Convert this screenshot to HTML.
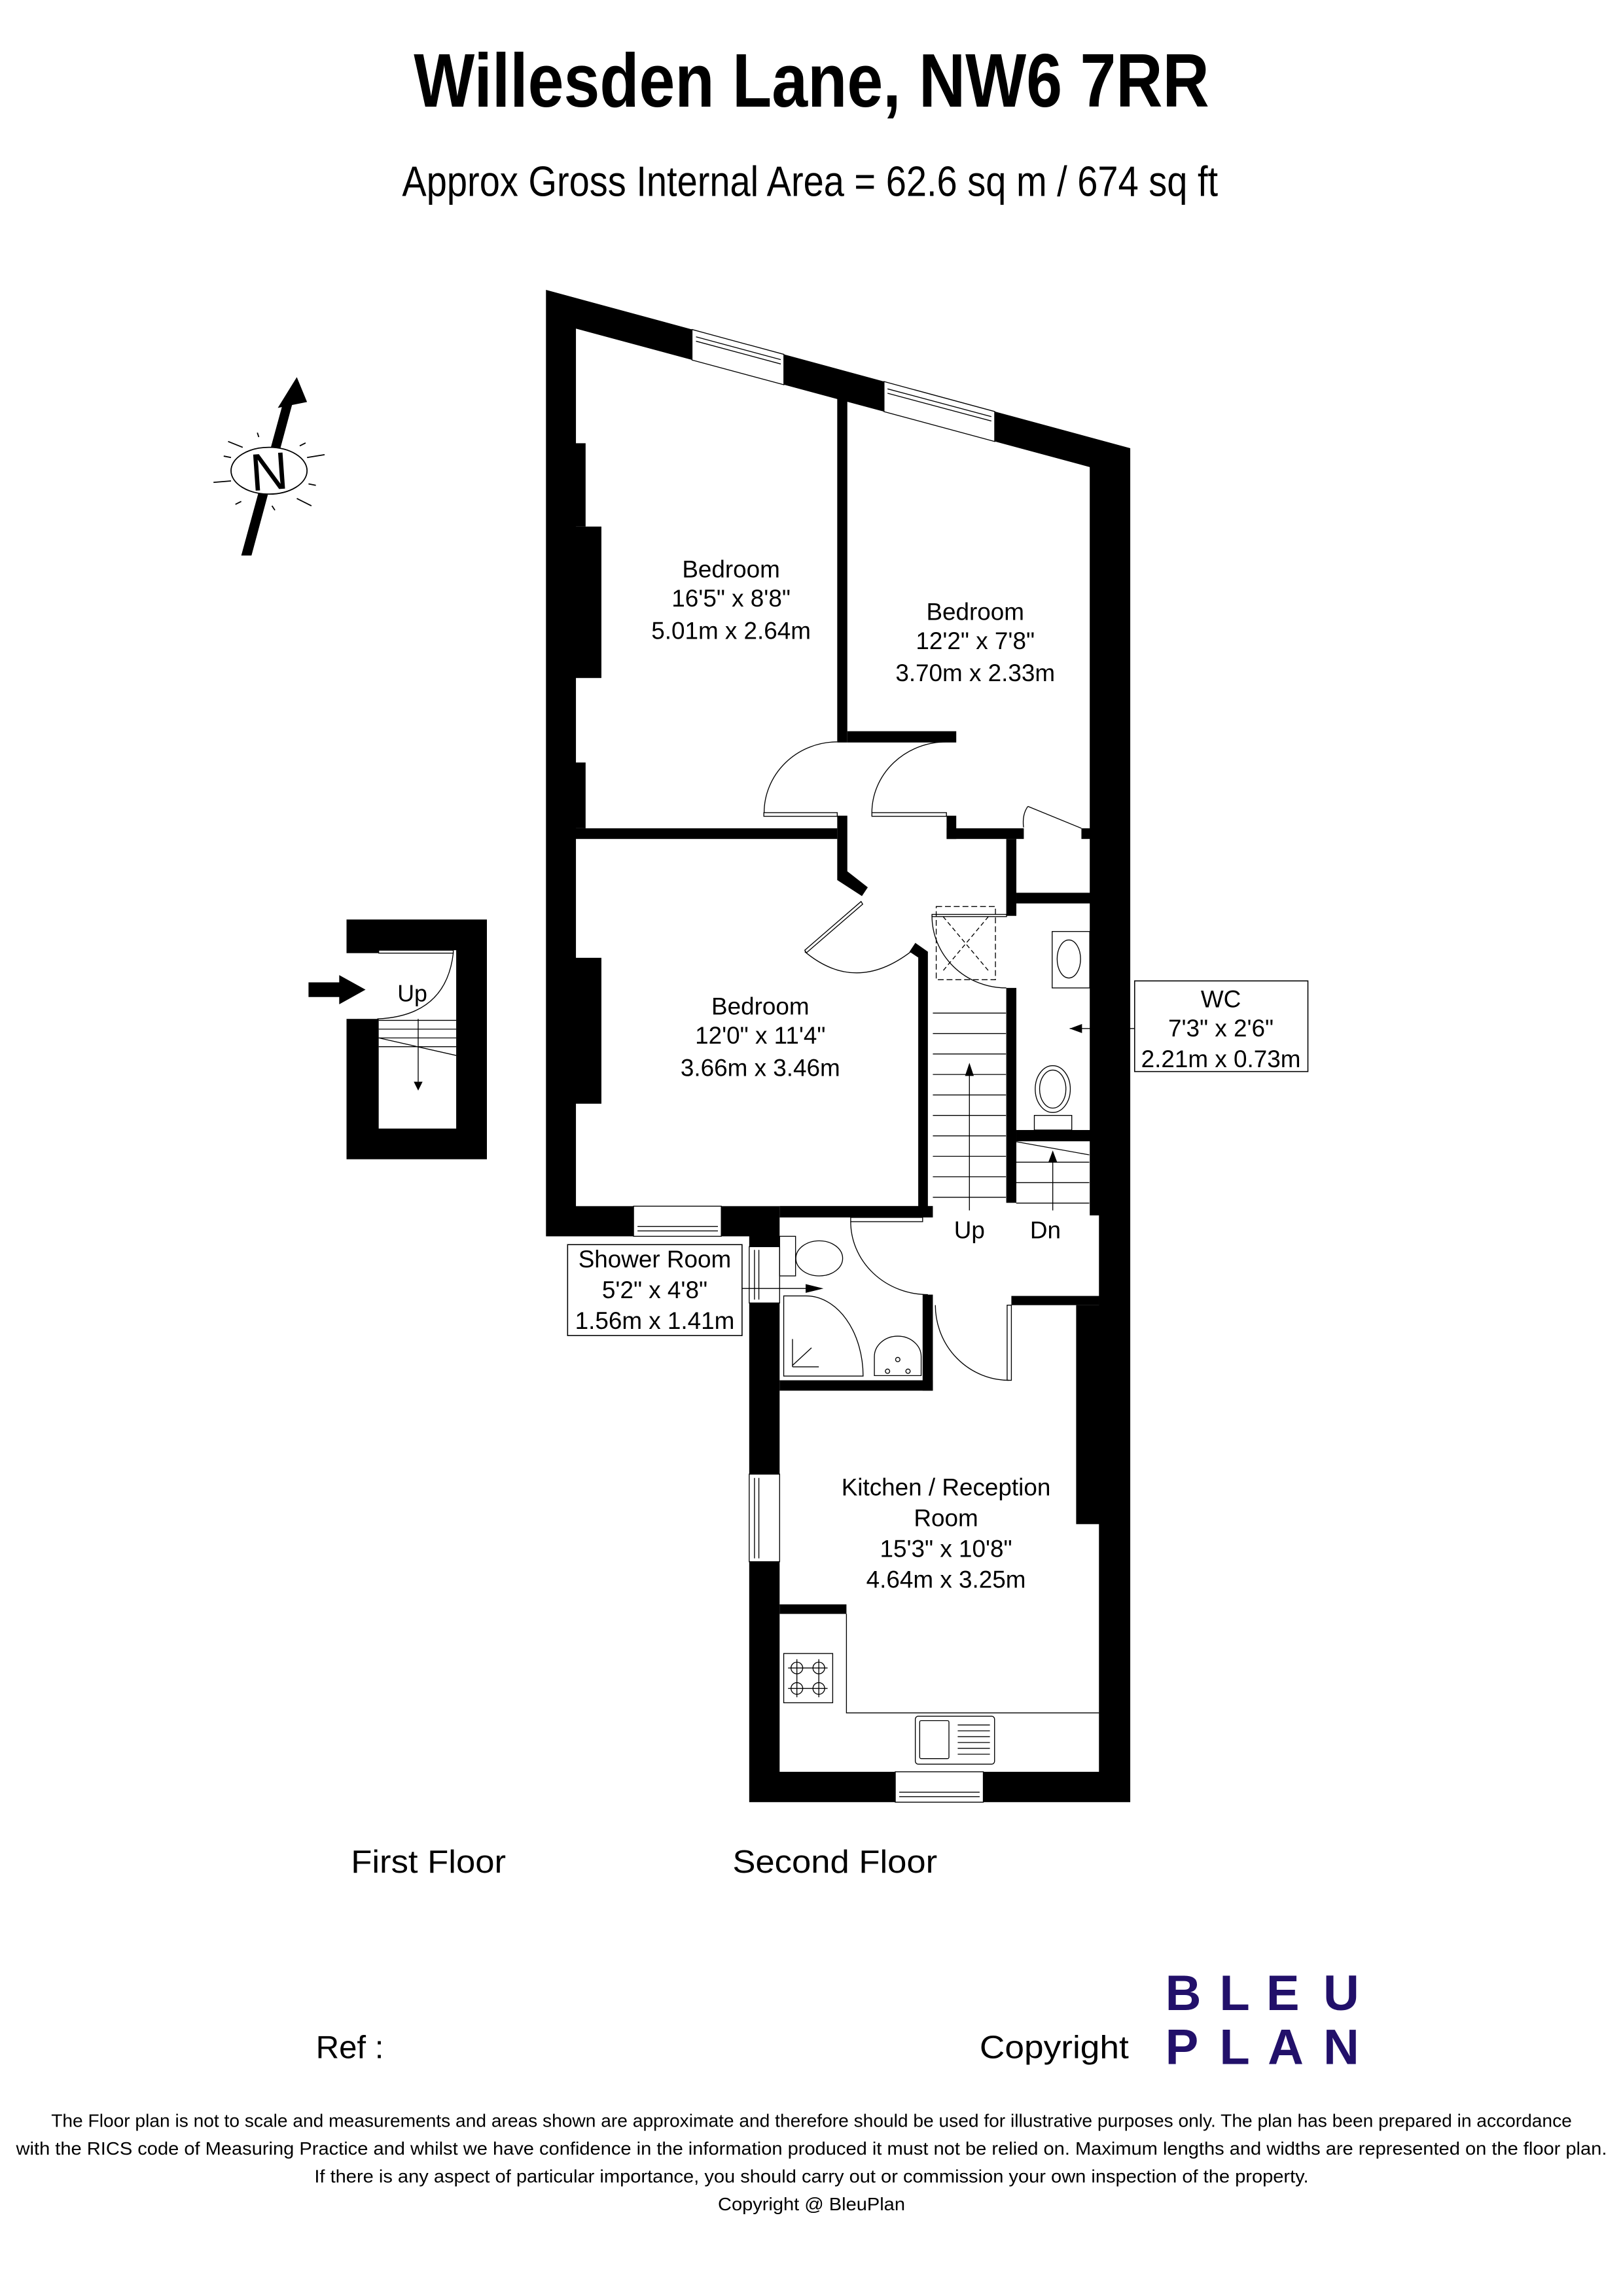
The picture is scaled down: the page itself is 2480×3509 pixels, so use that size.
<!DOCTYPE html>
<html><head><meta charset="utf-8"><style>html,body{margin:0;padding:0;background:#fff}svg{display:block}</style></head>
<body>
<svg width="2480" height="3509" viewBox="0 0 1110 1570.6" preserveAspectRatio="none" xmlns="http://www.w3.org/2000/svg" font-family="Liberation Sans, Arial, sans-serif">
<rect width="1110" height="1570.6" fill="#fff"/>
<text x="555" y="73" text-anchor="middle" font-size="52" font-weight="bold" textLength="544" lengthAdjust="spacingAndGlyphs">Willesden Lane, NW6 7RR</text>
<text x="554" y="134" text-anchor="middle" font-size="29" textLength="558" lengthAdjust="spacingAndGlyphs">Approx Gross Internal Area = 62.6 sq m / 674 sq ft</text>

<!-- compass -->
<polygon points="165,380 172,380 200,276 194,274" fill="#000"/>
<polygon points="190,279 210,275 203,258" fill="#000"/>
<g stroke="#000" fill="none" stroke-width="0.8">
<ellipse cx="184" cy="322" rx="26" ry="16" fill="#fff"/>
<line x1="156" y1="302" x2="166" y2="306"/><line x1="153" y1="312" x2="158" y2="313"/><line x1="146" y1="330" x2="158" y2="329"/>
<line x1="161" y1="345" x2="165" y2="343"/><line x1="186" y1="346" x2="188" y2="349"/><line x1="203" y1="341" x2="213" y2="346"/>
<line x1="211" y1="331" x2="216" y2="332"/><line x1="210" y1="313" x2="222" y2="311"/><line x1="205" y1="305" x2="209" y2="303"/><line x1="176" y1="296" x2="177" y2="299"/>
</g>
<text x="184" y="335" text-anchor="middle" font-size="36" transform="rotate(-4 184 322)">N</text>

<!-- first floor stair -->
<rect x="237" y="629" width="96" height="164" fill="#000"/>
<rect x="259" y="650" width="53" height="122" fill="#fff"/>
<rect x="236" y="652" width="24" height="45" fill="#fff"/>
<g stroke="#000" stroke-width="0.6" fill="none">
<rect x="259" y="650" width="51" height="2"/>
<path d="M310,652 Q305,695 258,697"/>
<line x1="259" y1="698" x2="312" y2="698"/><line x1="259" y1="704" x2="312" y2="704"/><line x1="259" y1="710" x2="312" y2="710"/><line x1="259" y1="716" x2="312" y2="716"/>
<line x1="259" y1="710" x2="312" y2="722"/><line x1="286" y1="697" x2="286" y2="740"/>
</g>
<polygon points="283,740 289,740 286,746" fill="#000"/>
<polygon points="211,672 232,672 232,667 250,677 232,687 232,682 211,682" fill="#000"/>
<text x="282" y="685" text-anchor="middle" font-size="16">Up</text>

<!-- second floor outline -->
<polygon points="373.4,198.3 773,306.6 773,1232.8 512.4,1232.8 512.4,845.7 373.4,845.7" fill="#000"/>
<polygon points="393.9,224.8 745.3,319.5 745.3,831.4 751.6,831.4 751.6,1212 533.2,1212 533.2,825.1 393.9,825.1" fill="#fff"/>
<g fill="#000">
<rect x="393" y="303.2" width="7.5" height="57"/>
<rect x="393" y="360.2" width="18.3" height="103.6"/>
<rect x="393" y="521.6" width="7.5" height="45"/>
<rect x="393" y="655.2" width="18.3" height="99.8"/>
<rect x="393" y="566.6" width="179.6" height="7.3"/>
<rect x="572.6" y="270" width="6.9" height="237.9"/>
<rect x="579.5" y="500.2" width="74.5" height="7.7"/>
<polygon points="572.6,558 579.5,558 579.5,596 593.5,607 589.5,613 572.6,602"/>
<rect x="647.4" y="558" width="6.6" height="15.9"/>
<rect x="647.4" y="566.6" width="52.8" height="7.3"/>
<rect x="739.6" y="566.6" width="6" height="7.3"/>
<rect x="688.2" y="573.9" width="6.9" height="52.6"/>
<rect x="688.2" y="675.8" width="6.9" height="147"/>
<rect x="695.1" y="610.7" width="50.5" height="7.3"/>
<rect x="695.1" y="773" width="50.5" height="7.7"/>
<polygon points="628,655 622,651 626,645 634.6,651 634.6,826 628,826"/>
<rect x="533.2" y="825" width="104.8" height="7.8"/>
<rect x="631" y="885.6" width="7" height="65.7"/>
<rect x="533.2" y="944.2" width="104.8" height="7.1"/>
<rect x="691.7" y="886.5" width="60" height="6.3"/>
<rect x="736" y="892.8" width="16" height="149.8"/>
<rect x="533.2" y="1097.5" width="45.7" height="6.5"/>
</g>
<g fill="#fff" stroke="#000" stroke-width="0.6">
<polygon points="473.3,225.4 536.1,242.4 536.1,263.2 473.3,246.3"/>
<polygon points="604.6,261 680.3,281.5 680.3,302 604.6,281.6"/>
<rect x="433.3" y="825.1" width="60" height="20.6"/>
<rect x="512.4" y="852.8" width="20.8" height="38.5"/>
<rect x="512.4" y="1008.4" width="20.8" height="59.9"/>
<rect x="612.3" y="1212" width="60.2" height="20.8"/>
</g>
<g stroke="#000" stroke-width="0.6" fill="none">
<line x1="476" y1="230.4" x2="534" y2="246"/><line x1="476" y1="233.4" x2="534" y2="249"/>
<line x1="607" y1="266" x2="678" y2="285"/><line x1="607" y1="269" x2="678" y2="288"/>
<line x1="436" y1="839" x2="491" y2="839"/><line x1="436" y1="842" x2="491" y2="842"/>
<line x1="516" y1="855" x2="516" y2="889"/><line x1="519" y1="855" x2="519" y2="889"/>
<line x1="516" y1="1011" x2="516" y2="1066"/><line x1="519" y1="1011" x2="519" y2="1066"/>
<line x1="615" y1="1226" x2="670" y2="1226"/><line x1="615" y1="1229" x2="670" y2="1229"/>
<rect x="522.4" y="555.9" width="50.2" height="2.5"/>
<path d="M522.6,556 A50,48.5 0 0 1 572.6,507.5"/>
<rect x="596.3" y="555.9" width="51" height="2.5"/>
<path d="M596.3,556 A51,48.5 0 0 1 647.4,507.5"/>
<polygon points="550.4,650 588.9,616.7 590,618.5 551.5,651.8"/>
<path d="M550.4,651 Q585,680 623,651"/>
<line x1="703" y1="551.6" x2="739.6" y2="566.6"/><path d="M703,551.6 Q699,557 700,566"/>
<rect x="637.4" y="625.5" width="51" height="1.5"/>
<path d="M637.4,626.5 A50.8,49.3 0 0 0 688.2,675.8"/>
<rect x="581.8" y="832.8" width="49.2" height="2.9"/>
<path d="M581.8,835.7 A52.8,50 0 0 0 634.6,885.6"/>
<rect x="688.8" y="892.8" width="2.9" height="51.4"/>
<path d="M639.7,892.8 A50.5,51.4 0 0 0 690.2,944.2"/>
<rect x="640.3" y="620.1" width="40.5" height="50.1" stroke-dasharray="4,2"/>
<line x1="645" y1="627" x2="676" y2="664" stroke-dasharray="3,2"/><line x1="676" y1="627" x2="645" y2="664" stroke-dasharray="3,2"/>
<line x1="638" y1="693" x2="688" y2="693"/><line x1="638" y1="707" x2="688" y2="707"/><line x1="638" y1="721" x2="688" y2="721"/><line x1="638" y1="735" x2="688" y2="735"/>
<line x1="638" y1="749" x2="688" y2="749"/><line x1="638" y1="763" x2="688" y2="763"/><line x1="638" y1="777" x2="688" y2="777"/><line x1="638" y1="791" x2="688" y2="791"/>
<line x1="638" y1="805" x2="688" y2="805"/><line x1="638" y1="819" x2="688" y2="819"/>
<line x1="663" y1="828" x2="663" y2="733"/>
<line x1="695" y1="781" x2="745" y2="790"/><line x1="695" y1="795" x2="745" y2="795"/><line x1="695" y1="809" x2="745" y2="809"/><line x1="695" y1="823" x2="745" y2="823"/>
<line x1="720" y1="828" x2="720" y2="792"/>
<rect x="719.6" y="637.2" width="25.7" height="38.6"/>
<ellipse cx="731" cy="656" rx="8" ry="13"/>
<ellipse cx="720" cy="745" rx="12" ry="16"/><ellipse cx="720" cy="745" rx="9" ry="13"/>
<rect x="707.4" y="763" width="25.6" height="10"/>
<line x1="731.6" y1="703.6" x2="776" y2="703.6"/>
<rect x="533.2" y="845.7" width="10.9" height="27.1"/>
<ellipse cx="560.3" cy="860.8" rx="16" ry="12"/>
<path d="M536,941.3 L536,886.5 L551,886.5 A39,55 0 0 1 590.3,941.3 Z"/>
<line x1="542" y1="934" x2="555" y2="922"/><line x1="542" y1="935" x2="560" y2="935"/><line x1="542" y1="916" x2="542" y2="935"/>
<path d="M598,941 L598,928 A16,14 0 0 1 630,928 L630,941 Z"/>
<circle cx="614" cy="930" r="1.5"/><circle cx="607" cy="938" r="1.5"/><circle cx="621" cy="938" r="1.5"/>
<line x1="507.5" y1="881.4" x2="556" y2="881.4"/>
<polyline points="578.9,1104 578.9,1171.7 751.6,1171.7"/>
<rect x="536" y="1131.1" width="33.5" height="33.7"/>
<circle cx="545" cy="1141" r="4"/><circle cx="560" cy="1141" r="4"/><circle cx="545" cy="1155" r="4"/><circle cx="560" cy="1155" r="4"/>
<line x1="539" y1="1141" x2="566" y2="1141"/><line x1="539" y1="1155" x2="566" y2="1155"/><line x1="545" y1="1135" x2="545" y2="1161"/><line x1="560" y1="1135" x2="560" y2="1161"/>
<rect x="626" y="1174" width="54.2" height="32.8" rx="2"/>
<rect x="629" y="1177" width="20" height="26" rx="1"/>
<line x1="655" y1="1180" x2="677" y2="1180"/><line x1="655" y1="1184" x2="677" y2="1184"/><line x1="655" y1="1188" x2="677" y2="1188"/><line x1="655" y1="1192" x2="677" y2="1192"/><line x1="655" y1="1196" x2="677" y2="1196"/><line x1="655" y1="1200" x2="677" y2="1200"/>
</g>
<polygon points="731.6,703.6 740,700.5 740,706.7" fill="#000"/>
<polygon points="563.2,881.4 551,878.4 551,884.4" fill="#000"/>
<polygon points="660,736 666,736 663,727" fill="#000"/>
<polygon points="717,795 723,795 720,787" fill="#000"/>

<rect x="388.2" y="851.4" width="119.3" height="62.2" fill="#fff" stroke="#000" stroke-width="0.7"/>
<rect x="776" y="671" width="118.5" height="62" fill="#fff" stroke="#000" stroke-width="0.7"/>

<g font-size="16.5" text-anchor="middle">
<text x="500" y="395">Bedroom</text><text x="500" y="415">16'5" x 8'8"</text><text x="500" y="437">5.01m x 2.64m</text>
<text x="667" y="424">Bedroom</text><text x="667" y="444">12'2" x 7'8"</text><text x="667" y="466">3.70m x 2.33m</text>
<text x="520" y="694">Bedroom</text><text x="520" y="714">12'0" x 11'4"</text><text x="520" y="736">3.66m x 3.46m</text>
<text x="647" y="1023">Kitchen / Reception</text><text x="647" y="1044">Room</text><text x="647" y="1065">15'3" x 10'8"</text><text x="647" y="1086">4.64m x 3.25m</text>
<text x="447.8" y="867">Shower Room</text><text x="447.8" y="888">5'2" x 4'8"</text><text x="447.8" y="909">1.56m x 1.41m</text>
<text x="835" y="689">WC</text><text x="835" y="709">7'3" x 2'6"</text><text x="835" y="730">2.21m x 0.73m</text>
<text x="663" y="847">Up</text><text x="715" y="847">Dn</text>
</g>

<text x="240" y="1281" font-size="22" textLength="106" lengthAdjust="spacingAndGlyphs">First Floor</text>
<text x="501" y="1281" font-size="22" textLength="140" lengthAdjust="spacingAndGlyphs">Second Floor</text>
<text x="216" y="1408" font-size="22">Ref  :</text>
<text x="670" y="1408" font-size="22" textLength="102" lengthAdjust="spacingAndGlyphs">Copyright</text>
<g fill="#22106a" font-weight="bold" font-size="34">
<text x="797" y="1375">B</text><text x="834" y="1375">L</text><text x="866" y="1375">E</text><text x="905" y="1375">U</text>
<text x="797" y="1412">P</text><text x="834" y="1412">L</text><text x="867" y="1412">A</text><text x="905" y="1412">N</text>
</g>
<g font-size="12.6" text-anchor="middle">
<text x="555" y="1455" textLength="1040" lengthAdjust="spacingAndGlyphs">The Floor plan is not to scale and measurements and areas shown are approximate and therefore should be used for illustrative purposes only. The plan has been prepared in accordance</text>
<text x="555" y="1474" textLength="1088" lengthAdjust="spacingAndGlyphs">with the RICS code of Measuring Practice and whilst we have confidence in the information produced it must not be relied on. Maximum lengths and widths are represented on the floor plan.</text>
<text x="555" y="1493" textLength="680" lengthAdjust="spacingAndGlyphs">If there is any aspect of particular importance, you should carry out or commission your own inspection of the property.</text>
<text x="555" y="1512" textLength="128" lengthAdjust="spacingAndGlyphs">Copyright @ BleuPlan</text>
</g>
</svg>
</body></html>
